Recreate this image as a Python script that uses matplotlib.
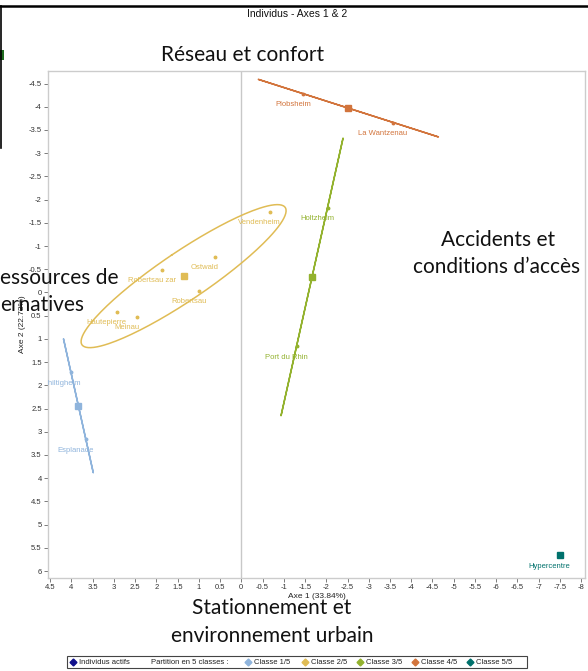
import numpy as np
import matplotlib
matplotlib.use("Agg")
import matplotlib.pyplot as plt
from matplotlib.lines import Line2D
from matplotlib.patches import Rectangle
from matplotlib.ticker import FuncFormatter

# individuals of each class, factor coordinates (axis 1, axis 2)
class1_names = ["Schiltigheim", "Esplanade"]
class1_x = [4.01, 3.66]
class1_y = [1.72, 3.16]

class2_names = ["Vendenheim", "Ostwald", "Robertsau zar", "Robertsau", "Hautepierre", "Meinau"]
class2_x = [-0.68, 0.61, 1.86, 0.99, 2.92, 2.45]
class2_y = [-1.74, -0.77, -0.49, -0.04, 0.41, 0.52]

class3_names = ["Holtzheim", "Port du Rhin"]
class3_x = [-2.03, -1.30]
class3_y = [-1.83, 1.16]

class4_names = ["Plobsheim", "La Wantzenau"]
class4_x = [-1.46, -3.58]
class4_y = [-4.28, -3.66]

class5_names = ["Hypercentre"]
class5_x = [-7.50]
class5_y = [5.66]

class_labels = ["Classe 1/5", "Classe 2/5", "Classe 3/5", "Classe 4/5", "Classe 5/5"]
class_colors = ["#8fb4dc", "#e0bc55", "#93b22e", "#d2743c", "#00716c"]

x_ticks = np.arange(4.5, -8.01, -0.5)
y_ticks = np.arange(-4.5, 6.01, 0.5)

classes = [
    (class1_names, class1_x, class1_y),
    (class2_names, class2_x, class2_y),
    (class3_names, class3_x, class3_y),
    (class4_names, class4_x, class4_y),
    (class5_names, class5_x, class5_y),
]

TICK_FONT = "Liberation Sans"
BIG_FONT = "Lato"


def concentration_ellipse(x, y, k=2.0, n=200):
    pts = np.column_stack([x, y])
    center = pts.mean(axis=0)
    cov = np.cov(pts.T, bias=True)
    vals, vecs = np.linalg.eigh(cov)
    vals = np.clip(vals, 0, None)
    t = np.linspace(0, 2 * np.pi, n)
    circle = np.vstack([np.cos(t), np.sin(t)])
    curve = vecs @ (k * np.sqrt(vals)[:, None] * circle)
    return center[0] + curve[0], center[1] + curve[1]


fig = plt.figure(figsize=(5.88, 6.71), dpi=100)
ax = fig.add_axes([48 / 588, 1 - 578 / 671, 537 / 588, 507 / 671])

ax.axvline(0, color="#c8c8c8", lw=1, zorder=0)

for (names, xs, ys), color in zip(classes, class_colors):
    if len(xs) > 1:
        ex, ey = concentration_ellipse(xs, ys)
        ax.plot(ex, ey, color=color, lw=1.1, zorder=2)
        ax.plot(xs, ys, "o", color=color, markersize=1.8, zorder=3)
        ax.plot(np.mean(xs), np.mean(ys), "s", color=color, markersize=3.8, zorder=4)
    else:
        ax.plot(xs, ys, "s", color=color, markersize=4.5, zorder=4)
    for name, px, py in zip(names, xs, ys):
        ax.annotate(name, (px, py), xytext=(-7.5, -8), textcoords="offset points",
                    ha="center", va="center", fontsize=5.5, color=color,
                    family=TICK_FONT, clip_on=True, annotation_clip=False)

ax.set_xlim(4.55, -8.09)
ax.set_ylim(6.15, -4.77)
ax.set_xticks(x_ticks)
ax.set_yticks(y_ticks)
fmt = FuncFormatter(lambda v, p: ("%g" % round(v, 2)).replace("-0", "-0") if abs(v) > 1e-9 else "0")
ax.xaxis.set_major_formatter(fmt)
ax.yaxis.set_major_formatter(fmt)
ax.tick_params(length=3, width=0.6, color="#666666", labelsize=5.5, labelcolor="#333333", pad=1.5)
for lab in ax.get_xticklabels() + ax.get_yticklabels():
    lab.set_family(TICK_FONT)
for s in ax.spines.values():
    s.set_color("#cccccc")
    s.set_linewidth(1)

ax.set_xlabel("Axe 1 (33.84%)", fontsize=6, family=TICK_FONT, color="#222222", labelpad=1)
ax.set_ylabel("Axe 2 (22.73%)", fontsize=6, family=TICK_FONT, color="#222222", labelpad=2)

# window chrome from the screenshot
fig.add_artist(Line2D([0, 1], [1 - 6 / 671, 1 - 6 / 671], color="black", lw=1.8))
fig.add_artist(Line2D([1.5 / 588, 1.5 / 588], [1 - 6 / 671, 1 - 148 / 671], color="black", lw=1.2))
fig.add_artist(Rectangle((0, 1 - 60 / 671), 4 / 588, 10 / 671, color="#1f6b1f", lw=0))

fig.text(297 / 588, 1 - 14 / 671, "Individus - Axes 1 & 2", ha="center", va="center",
         fontsize=7.5, family=TICK_FONT, color="#111111")

# overlaid slide annotations
big = dict(fontsize=15, family=BIG_FONT, color="#111111")
fig.text(243 / 588, 1 - 55 / 671, "Réseau et confort", ha="center", va="center", **big)
fig.text(498 / 588, 1 - 240 / 671, "Accidents et", ha="center", va="center", **big)
fig.text(497 / 588, 1 - 267 / 671, "conditions d’accès", ha="center", va="center", **big)
fig.text(0, 1 - 278 / 671, "essources de", ha="left", va="center", **big)
fig.text(0, 1 - 305 / 671, "ernatives", ha="left", va="center", **big)
fig.text(272 / 588, 1 - 608 / 671, "Stationnement et", ha="center", va="center", **big)
fig.text(272 / 588, 1 - 636 / 671, "environnement urbain", ha="center", va="center", **big)

# legend strip
ly = 1 - 662 / 671
fig.add_artist(Rectangle((67 / 588, 1 - 668 / 671), 460 / 588, 12 / 671,
                         fill=False, edgecolor="#444444", lw=0.8))
leg_font = dict(fontsize=5.5, family=TICK_FONT, color="#222222", va="center", ha="left")
fig.add_artist(Line2D([73 / 588], [ly], marker="D", color="#10108c", markersize=3.5, lw=0))
fig.text(79 / 588, ly, "Individus actifs", **leg_font)
fig.text(151 / 588, ly, "Partition en 5 classes :", **leg_font)
leg_x = [248, 305, 360, 415, 470]
for lx, lab, color in zip(leg_x, class_labels, class_colors):
    fig.add_artist(Line2D([lx / 588], [ly], marker="D", color=color, markersize=3.5, lw=0))
    fig.text((lx + 6) / 588, ly, lab, **leg_font)

fig.savefig("out.png", dpi=100)
